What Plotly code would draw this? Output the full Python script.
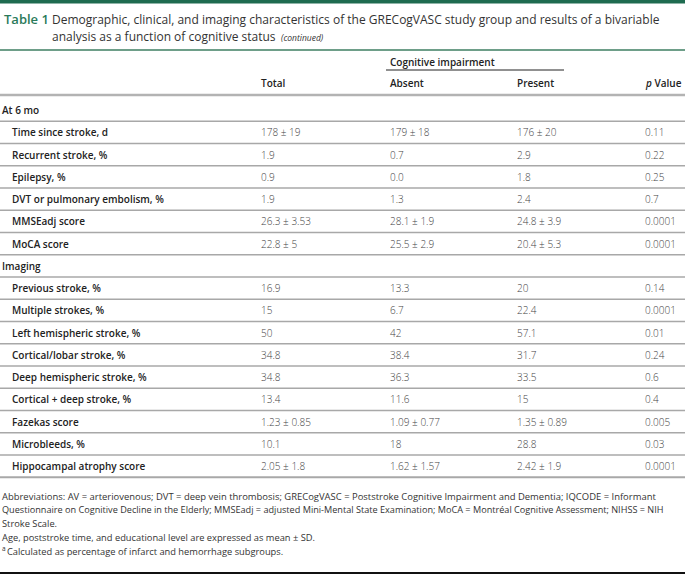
import plotly.graph_objects as go

# table content
sections = ["At 6 mo", "Imaging"]
labels_6mo = ["Time since stroke, d", "Recurrent stroke, %", "Epilepsy, %",
              "DVT or pulmonary embolism, %", "MMSEadj score", "MoCA score"]
labels_img = ["Previous stroke, %", "Multiple strokes, %", "Left hemispheric stroke, %",
              "Cortical/lobar stroke, %", "Deep hemispheric stroke, %", "Cortical + deep stroke, %",
              "Fazekas score", "Microbleeds, %", "Hippocampal atrophy score"]
total = ["178 ± 19", "1.9", "0.9", "1.9", "26.3 ± 3.53", "22.8 ± 5",
         "16.9", "15", "50", "34.8", "34.8", "13.4", "1.23 ± 0.85", "10.1", "2.05 ± 1.8"]
absent = ["179 ± 18", "0.7", "0.0", "1.3", "28.1 ± 1.9", "25.5 ± 2.9",
          "13.3", "6.7", "42", "38.4", "36.3", "11.6", "1.09 ± 0.77", "18", "1.62 ± 1.57"]
present = ["176 ± 20", "2.9", "1.8", "2.4", "24.8 ± 3.9", "20.4 ± 5.3",
           "20", "22.4", "57.1", "31.7", "33.5", "15", "1.35 ± 0.89", "28.8", "2.42 ± 1.9"]
pvalue = ["0.11", "0.22", "0.25", "0.7", "0.0001", "0.0001",
          "0.14", "0.0001", "0.01", "0.24", "0.6", "0.4", "0.005", "0.03", "0.0001"]
col_headers = ["Total", "Absent", "Present", "<i>p</i> Value"]
title_lines = ["Demographic, clinical, and imaging characteristics of the GRECogVASC study group and results of a bivariable",
               "analysis as a function of cognitive status"]
footnotes = [
    "Abbreviations: AV = arteriovenous; DVT = deep vein thrombosis; GRECogVASC = Poststroke Cognitive Impairment and Dementia; IQCODE = Informant",
    "Questionnaire on Cognitive Decline in the Elderly; MMSEadj = adjusted Mini-Mental State Examination; MoCA = Montréal Cognitive Assessment; NIHSS = NIH",
    "Stroke Scale.",
    "Age, poststroke time, and educational level are expressed as mean ± SD.",
    "Calculated as percentage of infarct and hemorrhage subgroups.",
]

W, H = 685, 578
FONT = "Open Sans"
GREEN = "#2a7a5a"
COL_X = [259, 388, 515, 643]
LABEL_X = 10
ROW0 = 110
ROW_H = 22.25

# build row list: (kind, text, data index)
rows = [("section", sections[0], None)]
rows += [("data", l, i) for i, l in enumerate(labels_6mo)]
rows.append(("section", sections[1], None))
rows += [("data", l, i + len(labels_6mo)) for i, l in enumerate(labels_img)]

annotations = []
shapes = []

def text(x, y, s, size=10, color="#333", weight=400, style="normal"):
    annotations.append(dict(x=x, y=y, xref="x", yref="y", text=s, showarrow=False,
                            xanchor="left", yanchor="middle", align="left",
                            font=dict(family=FONT, size=size, color=color,
                                      weight=weight, style=style)))

def hline(y, x0=0, x1=W, color="#b0b0b0", width=1.5):
    shapes.append(dict(type="line", xref="x", yref="y", x0=x0, x1=x1, y0=y, y1=y,
                       line=dict(color=color, width=width)))

# title block
shapes.append(dict(type="rect", xref="x", yref="y", x0=0, x1=W, y0=0, y1=3.5,
                   fillcolor="#1e6b50", line=dict(width=0)))
text(2, 19, "Table 1", size=13, color=GREEN, weight=600)
text(50, 19, title_lines[0], size=12, color="#333")
text(50, 36, title_lines[1], size=12, color="#333")
text(279, 37, "(continued)", size=8.5, color="#333", style="italic")
hline(50, color="#6e9e89", width=2)

# column headers
text(388, 62, "Cognitive impairment", size=10, color="#222", weight=600)
hline(70, 386, 564, color="#222", width=1)
for x, h in zip(COL_X, col_headers):
    text(x, 83, h, size=10, color="#222", weight=600)
hline(95, color="#b3b3b3", width=2.5)

# body rows
for r, (kind, label, idx) in enumerate(rows):
    y = ROW0 + r * ROW_H
    if kind == "section":
        text(0, y, label, size=10, color="#222", weight=600)
    else:
        text(LABEL_X, y, label, size=10, color="#222", weight=600)
        for x, col in zip(COL_X, [total, absent, present, pvalue]):
            text(x, y, col[idx], size=10, color="#444", weight=300)
    last = r == len(rows) - 1
    hline(y + ROW_H / 2, color="#a8a8a8", width=2 if last else 1.5)

# footnotes
foot_y0 = ROW0 + len(rows) * ROW_H + 8
foot_sizes = [9.45, 9.15, 9.3, 9.3, 9.3]
for i, f in enumerate(footnotes):
    last = i == len(footnotes) - 1
    text(5 if last else 0, foot_y0 + i * 13.7, f, size=foot_sizes[i], color="#333")
text(0, foot_y0 + (len(footnotes) - 1) * 13.7 - 3, "a", size=6.5, color="#333")
hline(573, color="#111", width=2)

fig = go.Figure()
fig.update_layout(
    width=W, height=H,
    margin=dict(l=0, r=0, t=0, b=0),
    paper_bgcolor="white", plot_bgcolor="white",
    xaxis=dict(range=[0, W], visible=False, fixedrange=True),
    yaxis=dict(range=[H, 0], visible=False, fixedrange=True),
    annotations=annotations, shapes=shapes,
    showlegend=False,
)
# remove the default page margin so the table sits flush with the window
fig.write_html("out.html", config={"displayModeBar": False},
               post_script="document.body.style.margin='0';")
